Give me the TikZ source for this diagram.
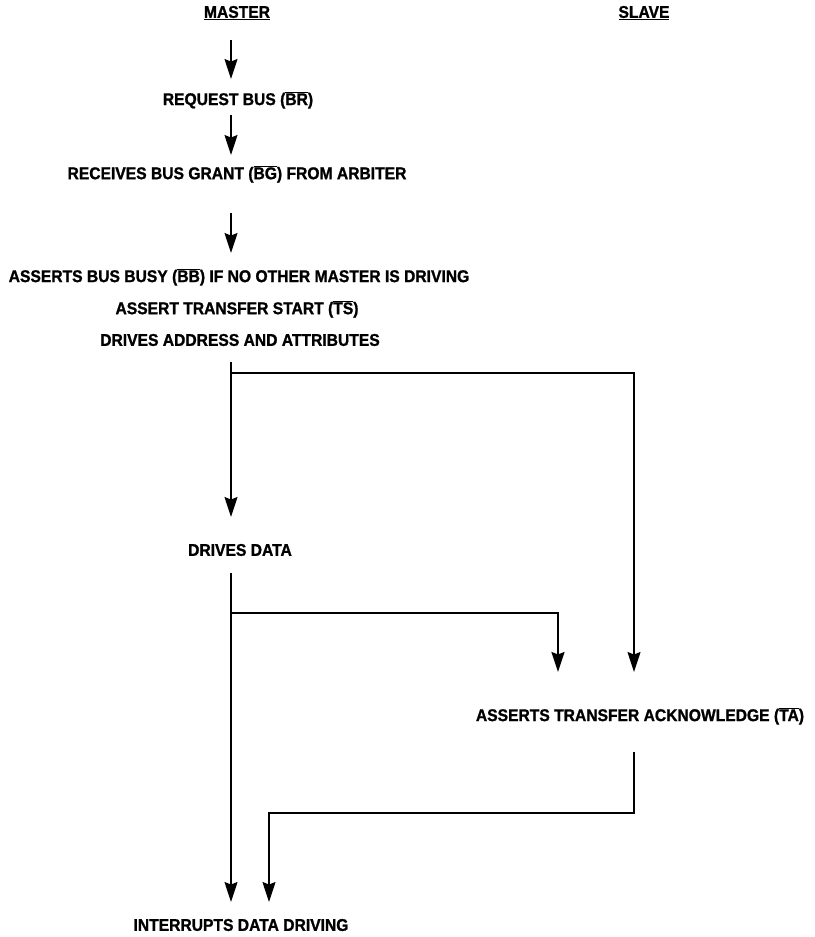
\documentclass[tikz,border=0pt]{standalone}
\usepackage{fontspec}
\setmainfont{Liberation Sans}[FakeStretch=0.92,BoldFeatures={FakeBold=1.2}]
\usetikzlibrary{arrows.meta}
\newcommand{\olb}[1]{$\overline{\mbox{#1}}$}
\begin{document}
\begin{tikzpicture}[x=1pt,y=-1pt,
  lbl/.style={inner sep=0pt,font=\fontsize{17}{20}\selectfont\bfseries},
  tip/.style={-{Stealth[length=20pt,width=13pt,inset=2.5pt]}},
  arr/.style={line width=1.2pt,tip},
  thk/.style={line width=2.2pt,tip}]
\useasboundingbox (0,0) rectangle (814,937);
% labels
\node[lbl] (master) at (237,13) {\underline{MASTER}};
\node[lbl] (slave) at (644,13) {\underline{SLAVE}};
\node[lbl] (req) at (238,100) {REQUEST BUS (\olb{BR})};
\node[lbl] (rcv) at (237,174) {RECEIVES BUS GRANT (\olb{BG}) FROM ARBITER};
\node[lbl] (ast1) at (239,277) {ASSERTS BUS BUSY (\olb{BB}) IF NO OTHER MASTER IS DRIVING};
\node[lbl] (ast2) at (237,309) {ASSERT TRANSFER START (\olb{TS})};
\node[lbl] (ast3) at (240,340) {DRIVES ADDRESS AND ATTRIBUTES};
\node[lbl] (dd) at (240,550) {DRIVES DATA};
\node[lbl] (ack) at (640,716) {ASSERTS TRANSFER ACKNOWLEDGE (\olb{TA})};
\node[lbl] (intr) at (241,925) {INTERRUPTS DATA DRIVING};
% connector coordinates
\coordinate (a1s) at (231,40);  \coordinate (a1e) at (231,79);
\coordinate (a2s) at (231,115); \coordinate (a2e) at (231,155);
\coordinate (a3s) at (231,213); \coordinate (a3e) at (231,253);
\coordinate (b0) at (231,362);  \coordinate (b1) at (231,373);
\coordinate (b1e) at (231,517);
\coordinate (b2) at (634,373);  \coordinate (b2e) at (634,672);
\coordinate (c0) at (231,573);  \coordinate (c1) at (231,613);
\coordinate (c1e) at (231,902);
\coordinate (c2) at (558,613);  \coordinate (c2e) at (558,672);
\coordinate (d0) at (634,752);  \coordinate (d1) at (634,813);
\coordinate (d2) at (269,813);  \coordinate (d2e) at (269,902);
% connectors
\draw[arr] (a1s) -- (a1e);
\draw[arr] (a2s) -- (a2e);
\draw[arr] (a3s) -- (a3e);
\draw[arr] (b0) -- (b1e);
\draw[arr] (b1) -- (b2) -- (b2e);
\draw[arr] (c0) -- (c1e);
\draw[thk] (c1) -- (c2) -- (c2e);
\draw[arr] (d0) -- (d1) -- (d2) -- (d2e);
\end{tikzpicture}
\end{document}
